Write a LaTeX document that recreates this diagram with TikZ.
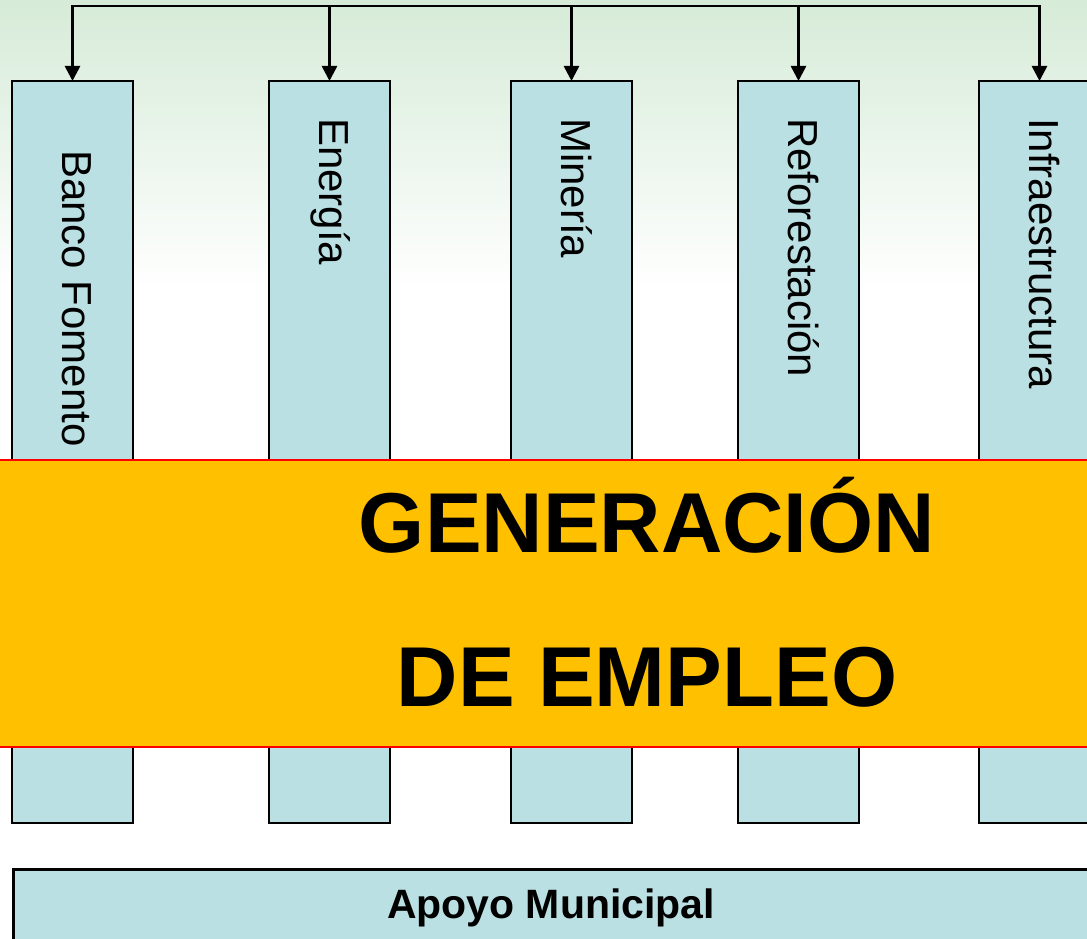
\documentclass[tikz,border=0pt]{standalone}
\usepackage{fontspec}
\setmainfont{Liberation Sans}
\usetikzlibrary{arrows.meta}
\definecolor{boxfill}{RGB}{187,224,227}
\definecolor{bandfill}{RGB}{255,192,0}
\definecolor{bgtop}{RGB}{214,235,216}
\tikzset{
  pillar/.style={draw=black, line width=2.7pt, fill=boxfill, minimum width=121pt, minimum height=742pt, inner sep=0pt, outer sep=0pt},
  vlabel/.style={rotate=-90, anchor=base west, font=\fontsize{42}{42}\selectfont, inner sep=0pt},
  feed/.style={line width=2.6pt, -{Triangle[width=15pt,length=15pt]}},
  bandtext/.style={font=\fontsize{85}{85}\selectfont\bfseries, inner sep=0pt, anchor=base}
}
\begin{document}
\begin{tikzpicture}[x=1pt,y=-1pt]
\useasboundingbox (0,0) rectangle (1087,939);
% background
\fill[white] (0,0) rectangle (1087,939);
\shade[top color=bgtop, bottom color=white] (0,0) rectangle (1087,290);
% pillars
\node[pillar] (b1) at (72.5,452) {};
\node[pillar] (b2) at (329.5,452) {};
\node[pillar] (b3) at (571.5,452) {};
\node[pillar] (b4) at (798.5,452) {};
\node[pillar] (b5) at (1039.5,452) {};
% bus
\coordinate (t1) at (72.5,6);
\coordinate (t2) at (329.5,6);
\coordinate (t3) at (571.5,6);
\coordinate (t4) at (798.5,6);
\coordinate (t5) at (1039.5,6);
\draw[line width=2.6pt, line cap=rect] (t1) -- (t5);
\foreach \i in {1,...,5}{\draw[feed] (t\i) -- (b\i.north);}
% labels
\node[vlabel] (l1) at (62,150) {Banco Fomento};
\node[vlabel] (l2) at (319,118) {Energía};
\node[vlabel] (l3) at (561,118) {Minería};
\node[vlabel] (l4) at (788,118) {Reforestación};
\node[vlabel] (l5) at (1029,118) {Infraestructura};
% band
\node[draw=red, line width=2.4pt, fill=bandfill, minimum width=1100pt, minimum height=287pt, inner sep=0pt, outer sep=0pt] (band) at (543.5,603.5) {};
\node[bandtext] (g1) at (647,552) {GENERACIÓN};
\node[bandtext] (g2) at (647,706) {DE EMPLEO};
% bottom box
\node[draw=black, line width=2.7pt, fill=boxfill, minimum width=1088pt, minimum height=100pt, inner sep=0pt, anchor=north west] (apoyo) at (12,868) {};
\node[font=\fontsize{41}{41}\selectfont\bfseries, inner sep=0pt, anchor=base] (apoyotext) at (551,918) {Apoyo Municipal};
\end{tikzpicture}
\end{document}
